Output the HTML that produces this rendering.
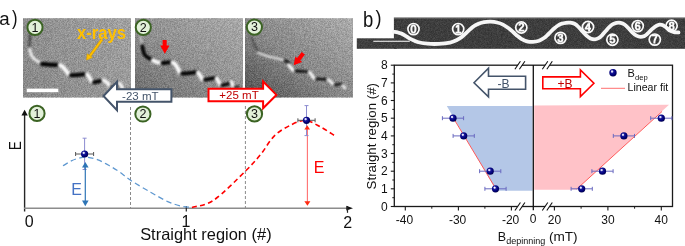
<!DOCTYPE html>
<html><head><meta charset="utf-8"><style>
html,body{margin:0;padding:0;background:#fff;}
body{width:685px;height:246px;overflow:hidden;}
svg{display:block;}
</style></head><body>
<svg width="685" height="246" viewBox="0 0 685 246">
<clipPath id="stripclip"><rect x="393.9" y="17.6" width="291.1" height="31.2"/><rect x="356.8" y="38.3" width="40" height="10.5"/></clipPath>
<defs>
<filter id="noise" x="0" y="0" width="100%" height="100%" color-interpolation-filters="sRGB">
  <feTurbulence type="fractalNoise" baseFrequency="1.3" numOctaves="1" seed="3" result="t"/>
  <feColorMatrix type="saturate" values="0" in="t" result="g"/>
  <feComponentTransfer in="g" result="c"><feFuncR type="linear" slope="3" intercept="-1"/><feFuncG type="linear" slope="3" intercept="-1"/><feFuncB type="linear" slope="3" intercept="-1"/><feFuncA type="linear" slope="0" intercept="1"/></feComponentTransfer>
</filter>
<filter id="blur1" filterUnits="userSpaceOnUse" x="0" y="0" width="685" height="246"><feGaussianBlur stdDeviation="0.8"/></filter>
<filter id="blur05" filterUnits="userSpaceOnUse" x="0" y="0" width="685" height="246"><feGaussianBlur stdDeviation="0.4"/></filter>
<filter id="blur2" filterUnits="userSpaceOnUse" x="0" y="0" width="685" height="246"><feGaussianBlur stdDeviation="1.2"/></filter>
<linearGradient id="g1" x1="0" y1="0.7" x2="1" y2="0.3">
  <stop offset="0" stop-color="#8c8c8c"/><stop offset="1" stop-color="#a6a6a6"/></linearGradient>
<linearGradient id="g2" x1="0" y1="1" x2="1" y2="0">
  <stop offset="0" stop-color="#6a6a6a"/><stop offset="0.5" stop-color="#959595"/><stop offset="1" stop-color="#b2b2b2"/></linearGradient>
<linearGradient id="g3" x1="0" y1="1" x2="1" y2="0">
  <stop offset="0" stop-color="#484848"/><stop offset="0.45" stop-color="#888888"/><stop offset="1" stop-color="#b4b4b4"/></linearGradient>
<radialGradient id="sph" cx="0.42" cy="0.4" r="0.62" fx="0.36" fy="0.32">
  <stop offset="0" stop-color="#ffffff"/><stop offset="0.18" stop-color="#c8c8f0"/><stop offset="0.34" stop-color="#1a1a9a"/><stop offset="0.7" stop-color="#00007a"/><stop offset="1" stop-color="#00004a"/></radialGradient>
</defs>
<text x="-0.8" y="25.2" font-family='"Liberation Sans", sans-serif' font-size="18.7" fill="#111">a</text>
<text x="12" y="24.8" font-family='"Liberation Sans", sans-serif' font-size="19.5" fill="#111" transform="translate(12,0) scale(0.85,1) translate(-12,0)">)</text>
<rect x="23" y="18.2" width="108" height="79.3" fill="url(#g1)"/>
<rect x="23" y="18.2" width="108" height="79.3" filter="url(#noise)" opacity="0.16"/>
<rect x="135" y="18.2" width="108" height="79.3" fill="url(#g2)"/>
<rect x="135" y="18.2" width="108" height="79.3" filter="url(#noise)" opacity="0.16"/>
<rect x="245" y="18.2" width="108" height="79.3" fill="url(#g3)"/>
<rect x="245" y="18.2" width="108" height="79.3" filter="url(#noise)" opacity="0.16"/>
<path d="M30.3,34.0 C30.2,35.0 29.9,37.8 29.7,40.0 C29.5,42.2 29.4,45.8 29.3,47.0" fill="none" stroke="#1a1a1a" stroke-width="1.6" stroke-linecap="round" opacity="0.9" filter="url(#blur1)"/>
<path d="M29.6,49.0 C29.9,50.1 30.6,53.7 31.5,55.5 C32.5,57.3 34.0,58.7 35.3,59.8 C36.6,60.9 38.8,61.9 39.5,62.3" fill="none" stroke="#f0f0f0" stroke-width="2.8" stroke-linecap="round" opacity="1" filter="url(#blur1)"/>
<path d="M42.0,64.0 C43.2,64.1 47.0,64.5 49.5,64.6 C52.0,64.7 55.8,64.8 57.0,64.8" fill="none" stroke="#050505" stroke-width="4.2" stroke-linecap="round" opacity="1" filter="url(#blur1)"/>
<path d="M60.0,65.2 C60.4,65.4 61.6,65.7 62.5,66.5 C63.4,67.3 64.5,68.8 65.5,70.0 C66.5,71.2 68.0,73.3 68.5,74.0" fill="none" stroke="#fdfdfd" stroke-width="4.0" stroke-linecap="round" opacity="1" filter="url(#blur1)"/>
<path d="M71.0,75.3 C72.1,75.2 75.3,75.2 77.6,75.0 C79.8,74.8 83.3,74.4 84.5,74.3" fill="none" stroke="#050505" stroke-width="4.0" stroke-linecap="round" opacity="1" filter="url(#blur1)"/>
<path d="M87.0,74.2 C87.4,74.7 88.5,75.8 89.2,77.0 C90.0,78.2 91.1,80.6 91.5,81.3" fill="none" stroke="#fdfdfd" stroke-width="3.8" stroke-linecap="round" opacity="1" filter="url(#blur1)"/>
<path d="M94.0,82.3 C94.6,82.2 96.3,81.9 97.4,81.7 C98.5,81.5 100.0,81.0 100.5,80.9" fill="none" stroke="#050505" stroke-width="3.8" stroke-linecap="round" opacity="1" filter="url(#blur1)"/>
<path d="M103.5,80.2 C104.0,80.5 105.5,81.1 106.5,82.0 C107.5,82.9 108.8,84.9 109.3,85.5" fill="none" stroke="#fdfdfd" stroke-width="3.6" stroke-linecap="round" opacity="1" filter="url(#blur1)"/>
<path d="M111.5,86.8 C112.1,86.8 114.0,86.8 115.0,86.6 C116.0,86.4 117.1,85.9 117.5,85.8" fill="none" stroke="#1a1a1a" stroke-width="3.0" stroke-linecap="round" opacity="1" filter="url(#blur1)"/>
<path d="M119.4,83.3 C119.7,83.7 120.5,84.8 121.0,85.5 C121.5,86.2 122.2,87.4 122.4,87.8" fill="none" stroke="#fdfdfd" stroke-width="3.2" stroke-linecap="round" opacity="1" filter="url(#blur1)"/>
<rect x="26.7" y="88.6" width="31.6" height="3.6" fill="#fff"/>
<text x="76.9" y="39.2" font-family='"Liberation Sans", sans-serif' font-size="18.3" font-weight="bold" fill="#FFC000" textLength="49" lengthAdjust="spacingAndGlyphs">x-rays</text>
<line x1="102" y1="39.5" x2="89.5" y2="56.5" stroke="#D9A000" stroke-width="2.8"/>
<line x1="102" y1="39.5" x2="89.5" y2="56.5" stroke="#FFC000" stroke-width="1.6"/>
<polygon points="86.5,60 87.2,53.8 92.4,57.5" fill="#FFC000" stroke="#D9A000" stroke-width="0.6"/>
<path d="M140.7,36.6 C140.8,37.2 140.9,38.6 141.0,40.0 C141.1,41.4 141.4,44.0 141.5,44.8" fill="none" stroke="#e0e0e0" stroke-width="2.0" stroke-linecap="round" opacity="0.7" filter="url(#blur1)"/>
<path d="M142.3,46.0 C142.5,46.8 142.9,49.5 143.3,51.0 C143.7,52.5 143.9,53.8 144.8,55.0 C145.7,56.2 147.6,57.3 148.5,58.0 C149.4,58.7 150.2,58.8 150.5,59.0" fill="none" stroke="#050505" stroke-width="3.6" stroke-linecap="round" opacity="1" filter="url(#blur1)"/>
<path d="M153.0,60.5 C153.7,60.8 155.8,61.8 157.0,62.2 C158.2,62.6 159.9,62.7 160.5,62.8" fill="none" stroke="#fdfdfd" stroke-width="3.8" stroke-linecap="round" opacity="1" filter="url(#blur1)"/>
<path d="M162.5,63.0 C163.1,63.0 164.8,62.9 166.0,62.8 C167.2,62.7 169.3,62.3 170.0,62.2" fill="none" stroke="#050505" stroke-width="4.0" stroke-linecap="round" opacity="1" filter="url(#blur1)"/>
<path d="M172.5,62.5 C172.9,62.8 174.2,63.1 175.0,64.0 C175.8,64.9 176.7,66.6 177.5,68.0 C178.3,69.4 179.3,71.8 179.7,72.5" fill="none" stroke="#fdfdfd" stroke-width="4.0" stroke-linecap="round" opacity="1" filter="url(#blur1)"/>
<path d="M182.0,73.6 C183.2,73.5 186.8,73.5 189.0,73.2 C191.2,73.0 194.4,72.3 195.5,72.1" fill="none" stroke="#050505" stroke-width="3.8" stroke-linecap="round" opacity="1" filter="url(#blur1)"/>
<path d="M198.0,72.8 C198.4,73.3 199.8,74.9 200.5,76.0 C201.2,77.1 202.0,78.8 202.3,79.4" fill="none" stroke="#fdfdfd" stroke-width="3.8" stroke-linecap="round" opacity="1" filter="url(#blur1)"/>
<path d="M205.0,79.8 C205.8,79.7 208.0,79.3 209.6,79.0 C211.2,78.7 213.5,78.1 214.3,77.9" fill="none" stroke="#050505" stroke-width="3.6" stroke-linecap="round" opacity="1" filter="url(#blur1)"/>
<path d="M216.5,78.3 C216.8,78.8 217.9,80.5 218.5,81.5 C219.1,82.5 219.8,84.0 220.0,84.5" fill="none" stroke="#fdfdfd" stroke-width="3.6" stroke-linecap="round" opacity="1" filter="url(#blur1)"/>
<path d="M222.0,85.3 C222.6,85.2 224.3,84.9 225.5,84.6 C226.7,84.3 228.4,83.8 229.0,83.6" fill="none" stroke="#050505" stroke-width="3.2" stroke-linecap="round" opacity="1" filter="url(#blur1)"/>
<path d="M231.3,81.8 C231.5,82.2 232.0,83.3 232.3,84.0 C232.6,84.7 232.9,85.7 233.0,86.0" fill="none" stroke="#fdfdfd" stroke-width="3.2" stroke-linecap="round" opacity="1" filter="url(#blur1)"/>
<path d="M235.5,87.0 C236.0,87.0 238.0,86.8 238.5,86.8" fill="none" stroke="#222" stroke-width="2.6" stroke-linecap="round" opacity="1" filter="url(#blur1)"/>
<polygon points="162.6,39.9 166.7,39.9 166.7,45.6 169.5,45.6 164.8,53.7 160.2,45.6 162.6,45.6" fill="#FF0000"/>
<path d="M251.3,37.0 C251.7,37.9 252.8,40.8 253.5,42.5 C254.2,44.2 254.9,46.2 255.6,47.5 C256.3,48.8 257.2,50.0 257.5,50.5" fill="none" stroke="#2a2a2a" stroke-width="1.3" stroke-linecap="round" opacity="0.9" filter="url(#blur1)"/>
<path d="M257.5,50.2 C258.2,50.6 260.4,51.8 262.0,52.5 C263.6,53.2 266.2,54.0 267.0,54.3" fill="none" stroke="#333" stroke-width="1.0" stroke-linecap="round" opacity="0.6" filter="url(#blur1)"/>
<path d="M258.0,52.6 C259.0,53.0 262.0,54.3 264.0,55.0 C266.0,55.7 267.9,56.4 270.0,56.9 C272.1,57.4 274.3,57.8 276.5,58.3 C278.7,58.8 281.9,59.5 283.0,59.8" fill="none" stroke="#e8e8e8" stroke-width="2.1" stroke-linecap="round" opacity="1" filter="url(#blur1)"/>
<path d="M285.3,60.5 C285.7,60.8 286.8,61.5 287.5,62.0 C288.2,62.5 289.0,63.3 289.3,63.6" fill="none" stroke="#050505" stroke-width="2.4" stroke-linecap="round" opacity="1" filter="url(#blur1)"/>
<path d="M288.6,64.8 C289.0,65.2 290.1,66.6 290.8,67.5 C291.5,68.4 292.6,69.8 293.0,70.3" fill="none" stroke="#fdfdfd" stroke-width="3.2" stroke-linecap="round" opacity="1" filter="url(#blur1)"/>
<path d="M296.0,71.0 C297.0,71.0 300.1,71.2 302.0,71.3 C303.9,71.4 306.6,71.5 307.5,71.6" fill="none" stroke="#050505" stroke-width="2.4" stroke-linecap="round" opacity="1" filter="url(#blur1)"/>
<path d="M309.5,72.2 C309.9,72.7 311.1,74.0 311.8,75.0 C312.6,76.0 313.6,77.8 314.0,78.4" fill="none" stroke="#fdfdfd" stroke-width="3.0" stroke-linecap="round" opacity="1" filter="url(#blur1)"/>
<path d="M316.8,79.0 C317.6,79.0 320.0,79.0 321.5,79.1 C323.0,79.1 325.2,79.3 326.0,79.3" fill="none" stroke="#050505" stroke-width="2.4" stroke-linecap="round" opacity="1" filter="url(#blur1)"/>
<path d="M328.0,79.5 C328.4,79.8 329.7,80.8 330.5,81.5 C331.3,82.2 332.6,83.6 333.0,84.0" fill="none" stroke="#fdfdfd" stroke-width="2.8" stroke-linecap="round" opacity="1" filter="url(#blur1)"/>
<path d="M335.0,84.8 C335.5,84.7 337.0,84.5 338.0,84.3 C339.0,84.1 340.3,83.9 340.8,83.8" fill="none" stroke="#050505" stroke-width="2.2" stroke-linecap="round" opacity="1" filter="url(#blur1)"/>
<path d="M343.0,86.2 C343.3,86.5 344.7,87.7 345.0,88.0" fill="none" stroke="#fdfdfd" stroke-width="2.6" stroke-linecap="round" opacity="1" filter="url(#blur1)"/>
<polygon points="301.7,52.0 304.9,54.6 300.35,60.54 302.14,61.99 293.6,65.3 295.36,56.51 297.15,57.96" fill="#FF0000"/>
<circle cx="35" cy="27.3" r="7.6" fill="#E2F0D9" stroke="#3B6323" stroke-width="2"/><text x="35" y="31.6" text-anchor="middle" font-family='"Liberation Sans", sans-serif' font-size="12.5" fill="#111">1</text>
<circle cx="143.3" cy="27.3" r="7.6" fill="#E2F0D9" stroke="#3B6323" stroke-width="2"/><text x="143.3" y="31.6" text-anchor="middle" font-family='"Liberation Sans", sans-serif' font-size="12.5" fill="#111">2</text>
<circle cx="254.4" cy="27.1" r="7.6" fill="#E2F0D9" stroke="#3B6323" stroke-width="2"/><text x="254.4" y="31.400000000000002" text-anchor="middle" font-family='"Liberation Sans", sans-serif' font-size="12.5" fill="#111">3</text>
<polygon points="103.5,96 117,81.8 117,89.3 171.4,89.3 171.4,101.8 117,101.8 117,110.2" fill="#fff" stroke="#44546A" stroke-width="2" stroke-linejoin="miter"/>
<text x="140.3" y="100" text-anchor="middle" font-family='"Liberation Sans", sans-serif' font-size="11.5" fill="#44546A">-23 mT</text>
<polygon points="208.5,88.8 263.1,88.8 263.1,81.5 276.4,94.9 263.1,108.3 263.1,101.3 208.5,101.3" fill="#fff" stroke="#FF0000" stroke-width="2"/>
<text x="239" y="99" text-anchor="middle" font-family='"Liberation Sans", sans-serif' font-size="11.5" fill="#C00000">+25 mT</text>
<line x1="130.5" y1="107" x2="130.5" y2="208" stroke="#8a8a8a" stroke-width="1" stroke-dasharray="3,2"/>
<line x1="245.4" y1="106" x2="245.4" y2="208" stroke="#8a8a8a" stroke-width="1" stroke-dasharray="3,2"/>
<circle cx="37" cy="113.4" r="7.6" fill="#E2F0D9" stroke="#3B6323" stroke-width="2"/><text x="37" y="117.7" text-anchor="middle" font-family='"Liberation Sans", sans-serif' font-size="12.5" fill="#111">1</text>
<circle cx="142.9" cy="114" r="7.6" fill="#E2F0D9" stroke="#3B6323" stroke-width="2"/><text x="142.9" y="118.3" text-anchor="middle" font-family='"Liberation Sans", sans-serif' font-size="12.5" fill="#111">2</text>
<circle cx="254.5" cy="113.9" r="7.6" fill="#E2F0D9" stroke="#3B6323" stroke-width="2"/><text x="254.5" y="118.2" text-anchor="middle" font-family='"Liberation Sans", sans-serif' font-size="12.5" fill="#111">3</text>
<line x1="24.6" y1="113" x2="24.6" y2="211.5" stroke="#262626" stroke-width="1.4"/>
<polygon points="24.6,109.8 21.4,115.5 27.8,115.5" fill="#111"/>
<line x1="24" y1="208.2" x2="348" y2="208.2" stroke="#8c8c8c" stroke-width="1.4"/>
<polygon points="353,208.2 346.3,205.8 346.3,210.6" fill="#111"/>
<line x1="186.3" y1="206" x2="186.3" y2="211.5" stroke="#222" stroke-width="1.2"/>
<line x1="347.5" y1="206" x2="347.5" y2="212.8" stroke="#222" stroke-width="1.2"/>
<text x="29.2" y="227.3" text-anchor="middle" font-family='"Liberation Sans", sans-serif' font-size="16" fill="#111">0</text>
<text x="186" y="227" text-anchor="middle" font-family='"Liberation Sans", sans-serif' font-size="16" fill="#111">1</text>
<text x="347.6" y="228.3" text-anchor="middle" font-family='"Liberation Sans", sans-serif' font-size="16" fill="#111">2</text>
<text x="205.9" y="240.3" text-anchor="middle" font-family='"Liberation Sans", sans-serif' font-size="16.5" fill="#111" textLength="131.5" lengthAdjust="spacingAndGlyphs">Straight region (#)</text>
<text transform="translate(21,145.6) rotate(-90) scale(0.8,1)" text-anchor="middle" font-family='"Liberation Sans", sans-serif' font-size="16.5" fill="#111">E</text>
<path d="M63.0,165.8 C64.4,165.0 68.6,162.2 71.3,160.9 C74.0,159.6 76.8,158.6 79.4,158.0 C82.0,157.4 83.7,156.9 86.7,157.2 C89.7,157.5 93.6,158.2 97.3,159.6 C101.0,160.9 104.9,163.2 108.7,165.3 C112.5,167.4 116.3,169.8 120.0,172.3 C123.7,174.9 125.9,177.3 131.0,180.6 C136.1,183.9 144.5,188.7 150.6,192.2 C156.7,195.7 162.6,199.3 167.7,201.6 C172.8,203.9 177.6,205.2 181.3,206.2 C185.0,207.1 188.6,207.1 190.0,207.3" fill="none" stroke="#5F98D0" stroke-width="1.25" stroke-dasharray="5.5,3.5"/>
<path d="M192.0,207.4 C195.7,206.2 205.1,206.1 214.0,200.0 C222.9,193.9 237.9,178.5 245.7,170.8 C253.5,163.1 256.2,159.9 261.0,154.0 C265.8,148.1 269.5,140.5 274.6,135.6 C279.7,130.7 286.5,127.1 291.7,124.6 C296.9,122.1 301.1,120.1 306.0,120.5 C310.9,120.9 316.2,124.7 321.0,127.2 C325.8,129.7 332.2,134.2 334.5,135.6" fill="none" stroke="#FF0000" stroke-width="1.6" stroke-dasharray="5,3.3"/>
<line x1="84.6" y1="138.2" x2="84.6" y2="169.5" stroke="#8c8cd0" stroke-width="1"/><line x1="82.6" y1="138.2" x2="86.6" y2="138.2" stroke="#8c8cd0" stroke-width="1"/><line x1="82.6" y1="169.5" x2="86.6" y2="169.5" stroke="#8c8cd0" stroke-width="1"/><line x1="75.6" y1="154" x2="93.6" y2="154" stroke="#555" stroke-width="1"/><line x1="75.6" y1="152" x2="75.6" y2="156" stroke="#555" stroke-width="1"/><line x1="93.6" y1="152" x2="93.6" y2="156" stroke="#555" stroke-width="1"/>
<line x1="85.3" y1="166" x2="85.3" y2="201" stroke="#2E75B6" stroke-width="1.2"/>
<polygon points="85.3,162 82,167.5 88.6,167.5" fill="#2E75B6"/>
<polygon points="85.3,206.3 82,200.6 88.6,200.6" fill="#2E75B6"/>
<text x="76.5" y="195.2" text-anchor="middle" font-family='"Liberation Sans", sans-serif' font-size="16" fill="#4472C4">E</text>
<line x1="307.4" y1="128" x2="307.4" y2="202" stroke="#FF7070" stroke-width="1.1"/>
<polygon points="307.4,205.8 304.4,201.3 310.4,201.3" fill="#FF2A10"/>
<line x1="306.5" y1="105.6" x2="306.5" y2="135.6" stroke="#8c8cd0" stroke-width="1"/><line x1="304.5" y1="105.6" x2="308.5" y2="105.6" stroke="#8c8cd0" stroke-width="1"/><line x1="304.5" y1="135.6" x2="308.5" y2="135.6" stroke="#8c8cd0" stroke-width="1"/><line x1="297.9" y1="120.3" x2="315.1" y2="120.3" stroke="#555" stroke-width="1"/><line x1="297.9" y1="118.3" x2="297.9" y2="122.3" stroke="#555" stroke-width="1"/><line x1="315.1" y1="118.3" x2="315.1" y2="122.3" stroke="#555" stroke-width="1"/>
<polygon points="307.2,125.3 304.4,129.5 310,129.5" fill="#FF2A10"/>
<text x="319.2" y="173" text-anchor="middle" font-family='"Liberation Sans", sans-serif' font-size="16" fill="#FF0000">E</text>
<circle cx="84.6" cy="154" r="3.6" fill="url(#sph)"/>
<circle cx="306.5" cy="120.3" r="3.6" fill="url(#sph)"/>
<text x="363" y="27.2" font-family='"Liberation Sans", sans-serif' font-size="21.5" fill="#111" transform="translate(363,0) scale(0.86,1) translate(-363,0)">b</text>
<text x="375.4" y="25" font-family='"Liberation Sans", sans-serif' font-size="20" fill="#111" transform="translate(375.4,0) scale(0.9,1) translate(-375.4,0)">)</text>
<rect x="356.8" y="38.3" width="40" height="10.5" fill="#323232"/>
<rect x="393.9" y="17.6" width="291.1" height="31.2" fill="#313131"/>
<rect x="356.8" y="17.6" width="328.2" height="31.2" filter="url(#noise)" opacity="0.12" style="mix-blend-mode:screen" clip-path="url(#stripclip)"/>
<line x1="393.9" y1="17.9" x2="685" y2="17.9" stroke="#9a9a9a" stroke-width="0.8"/>
<line x1="373.3" y1="41.2" x2="409.8" y2="41.2" stroke="#fff" stroke-width="1.1"/>
<path d="M393.9,31.8 C394.5,31.9 396.3,32.0 397.5,32.3 C398.7,32.6 400.0,33.0 401.3,33.6 C402.6,34.2 404.1,35.0 405.5,35.8 C406.9,36.6 407.4,37.4 409.4,38.4 C411.4,39.4 414.5,41.1 417.5,42.0 C420.5,42.9 423.8,43.4 427.3,43.7 C430.8,44.0 434.9,44.1 438.7,43.9 C442.5,43.7 447.1,43.2 450.0,42.6 C452.9,42.0 454.4,41.2 456.3,40.3 C458.2,39.4 459.5,38.8 461.4,37.3 C463.3,35.8 465.7,33.4 467.6,31.6 C469.5,29.9 471.4,28.0 473.0,26.8 C474.6,25.6 475.6,25.0 477.4,24.2 C479.2,23.4 481.8,22.6 484.0,22.2 C486.2,21.8 488.2,21.6 490.4,21.7 C492.6,21.8 494.9,22.0 497.0,22.5 C499.1,23.0 501.2,23.7 503.0,24.6 C504.8,25.5 506.3,26.6 508.0,27.8 C509.7,29.0 511.5,30.6 513.1,32.0 C514.7,33.4 516.1,34.9 517.5,36.0 C518.9,37.1 519.7,37.9 521.3,38.8 C522.9,39.7 525.0,40.8 527.0,41.3 C529.0,41.8 531.0,42.0 533.0,41.9 C535.0,41.8 537.2,41.4 539.0,40.8 C540.8,40.1 542.4,39.1 544.0,38.0 C545.6,36.9 546.9,35.5 548.5,34.0 C550.1,32.5 552.2,30.2 553.8,28.8 C555.4,27.4 556.6,26.4 558.0,25.5 C559.4,24.6 560.7,24.1 562.0,23.6 C563.3,23.2 564.6,23.0 566.0,22.8 C567.4,22.6 568.8,22.5 570.2,22.7 C571.6,22.9 573.1,23.1 574.5,23.8 C575.9,24.5 577.2,25.7 578.5,27.0 C579.8,28.3 581.2,30.1 582.5,31.5 C583.8,32.9 585.2,34.5 586.5,35.6 C587.8,36.8 589.2,37.8 590.5,38.4 C591.8,39.0 593.2,39.3 594.5,39.3 C595.8,39.3 597.2,38.9 598.5,38.2 C599.8,37.5 600.8,36.5 602.0,35.3 C603.2,34.1 604.3,32.5 605.5,31.2 C606.7,29.9 607.8,28.4 609.0,27.3 C610.2,26.2 611.2,25.1 612.5,24.4 C613.8,23.7 615.2,23.2 616.5,22.9 C617.8,22.6 619.2,22.5 620.5,22.8 C621.8,23.1 623.2,23.6 624.5,24.5 C625.8,25.4 627.2,26.9 628.5,28.3 C629.8,29.7 631.2,31.4 632.5,32.6 C633.8,33.8 635.2,35.0 636.5,35.7 C637.8,36.4 639.2,36.9 640.5,36.9 C641.8,36.9 643.2,36.6 644.5,36.0 C645.8,35.4 646.8,34.3 648.0,33.2 C649.2,32.1 650.2,30.8 651.5,29.6 C652.8,28.5 654.2,27.1 655.5,26.3 C656.8,25.5 658.2,24.9 659.5,24.7 C660.8,24.5 661.8,24.7 663.0,25.2 C664.2,25.7 665.3,26.9 666.5,27.8 C667.7,28.7 668.8,29.9 670.0,30.6 C671.2,31.3 672.6,31.9 674.0,32.2 C675.4,32.5 677.8,32.4 678.5,32.4" fill="none" stroke="#f6f6f6" stroke-width="3.8" stroke-linecap="round" filter="url(#blur05)"/>
<circle cx="413.5" cy="29.1" r="5.6" fill="none" stroke="#fafafa" stroke-width="1.7"/><text x="413.5" y="32.800000000000004" text-anchor="middle" font-family='"Liberation Sans", sans-serif' font-size="10.5" fill="none" stroke="#fafafa" stroke-width="1.0">0</text>
<circle cx="458.2" cy="29.1" r="5.6" fill="none" stroke="#fafafa" stroke-width="1.7"/><text x="458.2" y="32.800000000000004" text-anchor="middle" font-family='"Liberation Sans", sans-serif' font-size="10.5" fill="none" stroke="#fafafa" stroke-width="1.0">1</text>
<circle cx="521.3" cy="27.5" r="5.6" fill="none" stroke="#fafafa" stroke-width="1.7"/><text x="521.3" y="31.2" text-anchor="middle" font-family='"Liberation Sans", sans-serif' font-size="10.5" fill="none" stroke="#fafafa" stroke-width="1.0">2</text>
<circle cx="560.5" cy="37.9" r="5.6" fill="none" stroke="#fafafa" stroke-width="1.7"/><text x="560.5" y="41.6" text-anchor="middle" font-family='"Liberation Sans", sans-serif' font-size="10.5" fill="none" stroke="#fafafa" stroke-width="1.0">3</text>
<circle cx="588" cy="27.0" r="5.6" fill="none" stroke="#fafafa" stroke-width="1.7"/><text x="588" y="30.7" text-anchor="middle" font-family='"Liberation Sans", sans-serif' font-size="10.5" fill="none" stroke="#fafafa" stroke-width="1.0">4</text>
<circle cx="612.4" cy="39.699999999999996" r="5.6" fill="none" stroke="#fafafa" stroke-width="1.7"/><text x="612.4" y="43.4" text-anchor="middle" font-family='"Liberation Sans", sans-serif' font-size="10.5" fill="none" stroke="#fafafa" stroke-width="1.0">5</text>
<circle cx="637.7" cy="26.1" r="5.6" fill="none" stroke="#fafafa" stroke-width="1.7"/><text x="637.7" y="29.8" text-anchor="middle" font-family='"Liberation Sans", sans-serif' font-size="10.5" fill="none" stroke="#fafafa" stroke-width="1.0">6</text>
<circle cx="654.8" cy="39.599999999999994" r="5.6" fill="none" stroke="#fafafa" stroke-width="1.7"/><text x="654.8" y="43.3" text-anchor="middle" font-family='"Liberation Sans", sans-serif' font-size="10.5" fill="none" stroke="#fafafa" stroke-width="1.0">7</text>
<circle cx="671.6" cy="25.8" r="5.6" fill="none" stroke="#fafafa" stroke-width="1.7"/><text x="671.6" y="29.5" text-anchor="middle" font-family='"Liberation Sans", sans-serif' font-size="10.5" fill="none" stroke="#fafafa" stroke-width="1.0">8</text>
<polygon points="446.8,106 532.6,106 532.6,190.7 496.5,190.7" fill="#B4C7E7"/>
<polygon points="534.2,105.6 669,104.8 576,189.8 534.2,189.8" fill="#FFC2C8"/>
<line x1="453.3" y1="117.9" x2="496" y2="189" stroke="#FF5A5A" stroke-width="1"/>
<line x1="576.5" y1="189.3" x2="662" y2="111.5" stroke="#FF5A5A" stroke-width="1"/>
<rect x="394.3" y="65.2" width="278.2" height="141.3" fill="none" stroke="#1a1a1a" stroke-width="1.3"/>
<line x1="533.3" y1="65" x2="533.3" y2="210.3" stroke="#111" stroke-width="1.3"/>
<line x1="390.8" y1="206.5" x2="394.3" y2="206.5" stroke="#1a1a1a" stroke-width="1.1"/>
<text x="387.8" y="210.7" text-anchor="end" font-family='"Liberation Sans", sans-serif' font-size="12" fill="#111">0</text>
<line x1="392.3" y1="197.7" x2="394.3" y2="197.7" stroke="#1a1a1a" stroke-width="1"/>
<line x1="390.8" y1="188.8" x2="394.3" y2="188.8" stroke="#1a1a1a" stroke-width="1.1"/>
<text x="387.8" y="193.0" text-anchor="end" font-family='"Liberation Sans", sans-serif' font-size="12" fill="#111">1</text>
<line x1="392.3" y1="180.0" x2="394.3" y2="180.0" stroke="#1a1a1a" stroke-width="1"/>
<line x1="390.8" y1="171.2" x2="394.3" y2="171.2" stroke="#1a1a1a" stroke-width="1.1"/>
<text x="387.8" y="175.4" text-anchor="end" font-family='"Liberation Sans", sans-serif' font-size="12" fill="#111">2</text>
<line x1="392.3" y1="162.3" x2="394.3" y2="162.3" stroke="#1a1a1a" stroke-width="1"/>
<line x1="390.8" y1="153.5" x2="394.3" y2="153.5" stroke="#1a1a1a" stroke-width="1.1"/>
<text x="387.8" y="157.7" text-anchor="end" font-family='"Liberation Sans", sans-serif' font-size="12" fill="#111">3</text>
<line x1="392.3" y1="144.7" x2="394.3" y2="144.7" stroke="#1a1a1a" stroke-width="1"/>
<line x1="390.8" y1="135.9" x2="394.3" y2="135.9" stroke="#1a1a1a" stroke-width="1.1"/>
<text x="387.8" y="140.1" text-anchor="end" font-family='"Liberation Sans", sans-serif' font-size="12" fill="#111">4</text>
<line x1="392.3" y1="127.0" x2="394.3" y2="127.0" stroke="#1a1a1a" stroke-width="1"/>
<line x1="390.8" y1="118.2" x2="394.3" y2="118.2" stroke="#1a1a1a" stroke-width="1.1"/>
<text x="387.8" y="122.4" text-anchor="end" font-family='"Liberation Sans", sans-serif' font-size="12" fill="#111">5</text>
<line x1="392.3" y1="109.4" x2="394.3" y2="109.4" stroke="#1a1a1a" stroke-width="1"/>
<line x1="390.8" y1="100.5" x2="394.3" y2="100.5" stroke="#1a1a1a" stroke-width="1.1"/>
<text x="387.8" y="104.7" text-anchor="end" font-family='"Liberation Sans", sans-serif' font-size="12" fill="#111">6</text>
<line x1="392.3" y1="91.7" x2="394.3" y2="91.7" stroke="#1a1a1a" stroke-width="1"/>
<line x1="390.8" y1="82.9" x2="394.3" y2="82.9" stroke="#1a1a1a" stroke-width="1.1"/>
<text x="387.8" y="87.1" text-anchor="end" font-family='"Liberation Sans", sans-serif' font-size="12" fill="#111">7</text>
<line x1="392.3" y1="74.1" x2="394.3" y2="74.1" stroke="#1a1a1a" stroke-width="1"/>
<line x1="390.8" y1="65.2" x2="394.3" y2="65.2" stroke="#1a1a1a" stroke-width="1.1"/>
<text x="387.8" y="69.4" text-anchor="end" font-family='"Liberation Sans", sans-serif' font-size="12" fill="#111">8</text>
<line x1="405.3" y1="206.5" x2="405.3" y2="210.5" stroke="#1a1a1a" stroke-width="1.1"/>
<text x="404.5" y="223.8" text-anchor="middle" font-family='"Liberation Sans", sans-serif' font-size="12" fill="#111">-40</text>
<line x1="458.4" y1="206.5" x2="458.4" y2="210.5" stroke="#1a1a1a" stroke-width="1.1"/>
<text x="457.6" y="223.8" text-anchor="middle" font-family='"Liberation Sans", sans-serif' font-size="12" fill="#111">-30</text>
<line x1="511.4" y1="206.5" x2="511.4" y2="210.5" stroke="#1a1a1a" stroke-width="1.1"/>
<text x="510.6" y="223.8" text-anchor="middle" font-family='"Liberation Sans", sans-serif' font-size="12" fill="#111">-20</text>
<line x1="431.8" y1="206.5" x2="431.8" y2="208.7" stroke="#1a1a1a" stroke-width="1"/>
<line x1="484.9" y1="206.5" x2="484.9" y2="208.7" stroke="#1a1a1a" stroke-width="1"/>
<line x1="554.4" y1="206.5" x2="554.4" y2="210.5" stroke="#1a1a1a" stroke-width="1.1"/>
<text x="554.4" y="223.8" text-anchor="middle" font-family='"Liberation Sans", sans-serif' font-size="12" fill="#111">20</text>
<line x1="607.9" y1="206.5" x2="607.9" y2="210.5" stroke="#1a1a1a" stroke-width="1.1"/>
<text x="607.9" y="223.8" text-anchor="middle" font-family='"Liberation Sans", sans-serif' font-size="12" fill="#111">30</text>
<line x1="661.3" y1="206.5" x2="661.3" y2="210.5" stroke="#1a1a1a" stroke-width="1.1"/>
<text x="661.3" y="223.8" text-anchor="middle" font-family='"Liberation Sans", sans-serif' font-size="12" fill="#111">40</text>
<line x1="581.1" y1="206.5" x2="581.1" y2="208.7" stroke="#1a1a1a" stroke-width="1"/>
<line x1="634.6" y1="206.5" x2="634.6" y2="208.7" stroke="#1a1a1a" stroke-width="1"/>
<text x="533.2" y="223.3" text-anchor="middle" font-family='"Liberation Sans", sans-serif' font-size="12" fill="#111">0</text>
<polygon points="515.4,210.0 520.4,203.0 524.4,203.0 519.4,210.0" fill="#fff"/><line x1="514.9" y1="210.5" x2="520.4" y2="202.5" stroke="#111" stroke-width="1.1"/><line x1="519.4" y1="210.5" x2="524.9" y2="202.5" stroke="#111" stroke-width="1.1"/>
<polygon points="542.8,210.0 547.8,203.0 551.8,203.0 546.8,210.0" fill="#fff"/><line x1="542.3" y1="210.5" x2="547.8" y2="202.5" stroke="#111" stroke-width="1.1"/><line x1="546.8" y1="210.5" x2="552.3" y2="202.5" stroke="#111" stroke-width="1.1"/>
<polygon points="515.4,68.7 520.4,61.7 524.4,61.7 519.4,68.7" fill="#fff"/><line x1="514.9" y1="69.2" x2="520.4" y2="61.2" stroke="#111" stroke-width="1.1"/><line x1="519.4" y1="69.2" x2="524.9" y2="61.2" stroke="#111" stroke-width="1.1"/>
<polygon points="542.8,68.7 547.8,61.7 551.8,61.7 546.8,68.7" fill="#fff"/><line x1="542.3" y1="69.2" x2="547.8" y2="61.2" stroke="#111" stroke-width="1.1"/><line x1="546.8" y1="69.2" x2="552.3" y2="61.2" stroke="#111" stroke-width="1.1"/>
<line x1="442.4" y1="118.2" x2="463.6" y2="118.2" stroke="#6a6ac0" stroke-width="1"/><line x1="442.4" y1="116.2" x2="442.4" y2="120.2" stroke="#6a6ac0" stroke-width="1"/><line x1="463.6" y1="116.2" x2="463.6" y2="120.2" stroke="#6a6ac0" stroke-width="1"/><circle cx="453.0" cy="118.2" r="3.6" fill="url(#sph)"/>
<line x1="453.09999999999997" y1="135.9" x2="474.3" y2="135.9" stroke="#6a6ac0" stroke-width="1"/><line x1="453.09999999999997" y1="133.9" x2="453.09999999999997" y2="137.9" stroke="#6a6ac0" stroke-width="1"/><line x1="474.3" y1="133.9" x2="474.3" y2="137.9" stroke="#6a6ac0" stroke-width="1"/><circle cx="463.7" cy="135.9" r="3.6" fill="url(#sph)"/>
<line x1="479.59999999999997" y1="171.2" x2="500.8" y2="171.2" stroke="#6a6ac0" stroke-width="1"/><line x1="479.59999999999997" y1="169.2" x2="479.59999999999997" y2="173.2" stroke="#6a6ac0" stroke-width="1"/><line x1="500.8" y1="169.2" x2="500.8" y2="173.2" stroke="#6a6ac0" stroke-width="1"/><circle cx="490.2" cy="171.2" r="3.6" fill="url(#sph)"/>
<line x1="484.9" y1="188.8" x2="506.1" y2="188.8" stroke="#6a6ac0" stroke-width="1"/><line x1="484.9" y1="186.8" x2="484.9" y2="190.8" stroke="#6a6ac0" stroke-width="1"/><line x1="506.1" y1="186.8" x2="506.1" y2="190.8" stroke="#6a6ac0" stroke-width="1"/><circle cx="495.5" cy="188.8" r="3.6" fill="url(#sph)"/>
<line x1="571.1" y1="188.8" x2="592.3000000000001" y2="188.8" stroke="#6a6ac0" stroke-width="1"/><line x1="571.1" y1="186.8" x2="571.1" y2="190.8" stroke="#6a6ac0" stroke-width="1"/><line x1="592.3000000000001" y1="186.8" x2="592.3000000000001" y2="190.8" stroke="#6a6ac0" stroke-width="1"/><circle cx="581.7" cy="188.8" r="3.6" fill="url(#sph)"/>
<line x1="591.9" y1="171.2" x2="613.1" y2="171.2" stroke="#6a6ac0" stroke-width="1"/><line x1="591.9" y1="169.2" x2="591.9" y2="173.2" stroke="#6a6ac0" stroke-width="1"/><line x1="613.1" y1="169.2" x2="613.1" y2="173.2" stroke="#6a6ac0" stroke-width="1"/><circle cx="602.5" cy="171.2" r="3.6" fill="url(#sph)"/>
<line x1="613.3" y1="135.9" x2="634.5" y2="135.9" stroke="#6a6ac0" stroke-width="1"/><line x1="613.3" y1="133.9" x2="613.3" y2="137.9" stroke="#6a6ac0" stroke-width="1"/><line x1="634.5" y1="133.9" x2="634.5" y2="137.9" stroke="#6a6ac0" stroke-width="1"/><circle cx="623.9" cy="135.9" r="3.6" fill="url(#sph)"/>
<line x1="650.6999999999999" y1="118.2" x2="671.9" y2="118.2" stroke="#6a6ac0" stroke-width="1"/><line x1="650.6999999999999" y1="116.2" x2="650.6999999999999" y2="120.2" stroke="#6a6ac0" stroke-width="1"/><line x1="671.9" y1="116.2" x2="671.9" y2="120.2" stroke="#6a6ac0" stroke-width="1"/><circle cx="661.3" cy="118.2" r="3.6" fill="url(#sph)"/>
<polygon points="474,82.7 488.5,68.2 488.5,76.2 525.6,76.2 525.6,89.2 488.5,89.2 488.5,96.8" fill="#fff" stroke="#44546A" stroke-width="1.6"/>
<text x="503.5" y="87.5" text-anchor="middle" font-family='"Liberation Sans", sans-serif' font-size="12" fill="#44546A">-B</text>
<polygon points="542.8,76.9 580.4,76.9 580.4,69.9 593.9,83.3 580.4,96.6 580.4,88.8 542.8,88.8" fill="#fff" stroke="#FF0000" stroke-width="1.6"/>
<text x="565" y="87.5" text-anchor="middle" font-family='"Liberation Sans", sans-serif' font-size="12" fill="#C00000">+B</text>
<circle cx="613" cy="72.7" r="3.7" fill="url(#sph)"/>
<text x="627.6" y="76.6" font-family='"Liberation Sans", sans-serif' font-size="11" fill="#111">B<tspan font-size="7.6" dy="3.3">dep</tspan></text>
<line x1="601" y1="88.3" x2="625" y2="88.3" stroke="#FF7070" stroke-width="1"/>
<text x="627.6" y="91.3" font-family='"Liberation Sans", sans-serif' font-size="10.6" fill="#111">Linear fit</text>
<text x="497.8" y="241" font-family='"Liberation Sans", sans-serif' font-size="12.5" fill="#111">B<tspan font-size="9" dy="2.5">depinning</tspan><tspan dy="-2.5" font-size="13.6"> (mT)</tspan></text>
<text transform="translate(376.3,136.2) rotate(-90)" text-anchor="middle" font-family='"Liberation Sans", sans-serif' font-size="13.3" fill="#111">Straight region (#)</text>
</svg>
</body></html>
